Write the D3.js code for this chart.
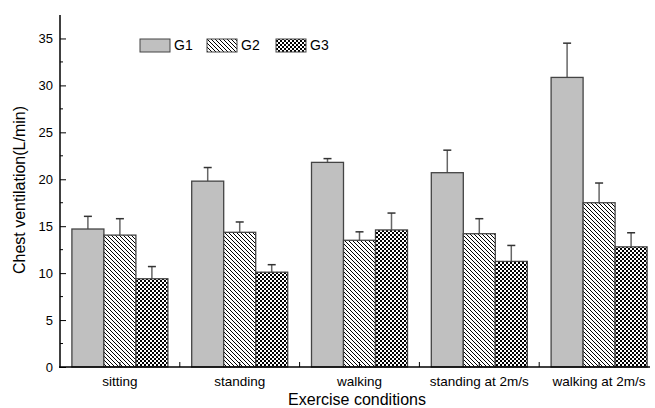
<!DOCTYPE html>
<html>
<head>
<meta charset="utf-8">
<script src="https://cdn.jsdelivr.net/npm/d3@7"></script>
<style>
  html, body { margin: 0; padding: 0; background: #fff; }
  svg { display: block; font-family: "Liberation Sans", Arial, sans-serif; }
</style>
</head>
<body>
<svg id="chart" width="655" height="408"></svg>
<script>
// Exercise conditions and group means (L/min) with upper error values
const conditions = ["sitting", "standing", "walking", "standing at 2m/s", "walking at 2m/s"];
const groups = ["G1", "G2", "G3"];
const g1Mean = [14.7, 19.8, 21.8, 20.7, 30.85];
const g2Mean = [14.05, 14.35, 13.5, 14.2, 17.5];
const g3Mean = [9.4, 10.1, 14.6, 11.25, 12.8];
const g1Err = [1.35, 1.45, 0.4, 2.4, 3.65];
const g2Err = [1.75, 1.1, 0.9, 1.6, 2.1];
const g3Err = [1.3, 0.8, 1.8, 1.7, 1.5];
const yTicks = [0, 5, 10, 15, 20, 25, 30, 35];

const means = [g1Mean, g2Mean, g3Mean];
const errs = [g1Err, g2Err, g3Err];

const FONT = '"Liberation Sans", Arial, sans-serif';
const svg = d3.select("#chart");
const plotL = 60, plotR = 659, plotT = 15, plotB = 367;

const x = d3.scaleBand().domain(conditions).range([plotL, plotR]).paddingInner(0).paddingOuter(0);
const barW = 32;
const xg = d3.scaleBand().domain(groups).range([0, barW * 3]);
const y = d3.scaleLinear().domain([0, 37.5]).range([plotB, plotT]);

// fill patterns: diagonal hatch for G2, fine checker for G3
const defs = svg.append("defs");
const p2 = defs.append("pattern").attr("id", "hatchG2")
  .attr("patternUnits", "userSpaceOnUse").attr("width", 4).attr("height", 4);
p2.append("rect").attr("width", 4).attr("height", 4).attr("fill", "#fff");
p2.append("path").attr("d", "M-1,-1 L5,5 M-1,3 L1,5 M3,-1 L5,1")
  .attr("stroke", "#000").attr("stroke-width", 1);

const p3 = defs.append("pattern").attr("id", "hatchG3")
  .attr("patternUnits", "userSpaceOnUse").attr("width", 4).attr("height", 4);
p3.append("rect").attr("width", 4).attr("height", 4).attr("fill", "#fff");
p3.append("rect").attr("x", 0).attr("y", 0).attr("width", 2).attr("height", 2).attr("fill", "#000");
p3.append("rect").attr("x", 2).attr("y", 2).attr("width", 2).attr("height", 2).attr("fill", "#000");

const fills = ["#c0c0c0", "url(#hatchG2)", "url(#hatchG3)"];

// bars and upper error bars
const barsG = svg.append("g");
groups.forEach((g, gi) => {
  conditions.forEach((c, ci) => {
    const cx = x(c) + x.bandwidth() / 2 - barW * 1.5 + xg(g);
    const v = means[gi][ci];
    const e = errs[gi][ci];
    const bx = cx + barW / 2;
    barsG.append("line")
      .attr("x1", bx).attr("x2", bx)
      .attr("y1", y(v)).attr("y2", y(v + e))
      .attr("stroke", "#666").attr("stroke-width", 1.5);
    barsG.append("line")
      .attr("x1", bx - 4).attr("x2", bx + 4)
      .attr("y1", y(v + e)).attr("y2", y(v + e))
      .attr("stroke", "#333").attr("stroke-width", 1.5);
    barsG.append("rect")
      .attr("x", cx).attr("y", y(v))
      .attr("width", barW).attr("height", y(0) - y(v))
      .attr("fill", fills[gi])
      .attr("stroke", "#444").attr("stroke-width", 1.3);
  });
});

// y axis with inward ticks
const yAxis = d3.axisLeft(y).tickValues(yTicks).tickSize(-6).tickPadding(7).tickSizeOuter(0);
const ya = svg.append("g").attr("transform", `translate(${plotL},0)`).call(yAxis)
  .attr("font-family", FONT).attr("font-size", 13);
ya.select(".domain").remove();
ya.selectAll("text").attr("fill", "#000");
ya.selectAll(".tick line").attr("stroke", "#000").attr("stroke-width", 1);
const yMinor = d3.range(2.5, 37.5, 5);
svg.append("g").selectAll("line").data(yMinor).join("line")
  .attr("x1", plotL).attr("x2", plotL + 3)
  .attr("y1", d => y(d)).attr("y2", d => y(d))
  .attr("stroke", "#000");
svg.append("line").attr("x1", plotL).attr("x2", plotL)
  .attr("y1", plotT).attr("y2", plotB + 1).attr("stroke", "#000").attr("stroke-width", 1.5);

// x axis
const xAxis = d3.axisBottom(x).tickSize(-5).tickPadding(9).tickSizeOuter(0);
const xa = svg.append("g").attr("transform", `translate(0,${plotB})`).call(xAxis)
  .attr("font-family", FONT).attr("font-size", 13.5);
xa.select(".domain").remove();
xa.selectAll("text").attr("fill", "#000");
xa.selectAll(".tick line").attr("stroke", "#000");
svg.append("g").selectAll("line").data(conditions.slice(1)).join("line")
  .attr("x1", d => x(d)).attr("x2", d => x(d))
  .attr("y1", plotB).attr("y2", plotB - 5)
  .attr("stroke", "#000");
svg.append("line").attr("x1", plotL - 1).attr("x2", 650)
  .attr("y1", plotB).attr("y2", plotB).attr("stroke", "#000").attr("stroke-width", 1.5);

// axis titles
svg.append("text").attr("x", 357).attr("y", 405).attr("text-anchor", "middle")
  .attr("font-size", 16).text("Exercise conditions");
svg.append("text").attr("transform", "translate(25,190) rotate(-90)")
  .attr("text-anchor", "middle").attr("font-size", 16).text("Chest ventilation(L/min)");

// legend
const legX = [140, 207, 276];
const leg = svg.append("g");
groups.forEach((g, i) => {
  leg.append("rect").attr("x", legX[i]).attr("y", 39).attr("width", 30).attr("height", 13)
    .attr("fill", fills[i]).attr("stroke", "#444").attr("stroke-width", 1);
  leg.append("text").attr("x", legX[i] + 34).attr("y", 50).attr("font-size", 14).text(g);
});
</script>
</body>
</html>
